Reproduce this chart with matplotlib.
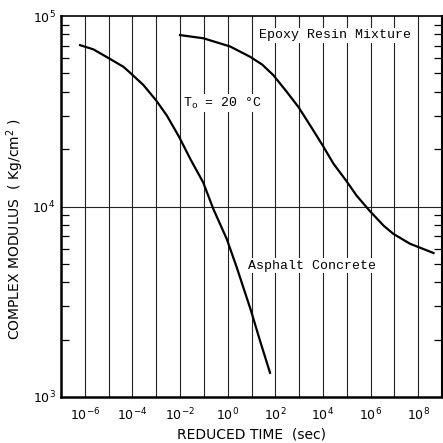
import numpy as np
import matplotlib
matplotlib.use("Agg")
import matplotlib.pyplot as plt
from matplotlib.ticker import LogLocator, FixedLocator, FuncFormatter, NullFormatter

# reduced time (sec) and complex modulus (Kg/cm^2)
asphalt_time = [6.3e-7, 2.3e-6, 1.07e-5, 4.2e-5, 9.3e-5, 2.9e-4, 9.8e-4, 2.75e-3,
                9.1e-3, 2.8e-2, 9.3e-2, 0.25, 0.91, 2.4, 9.5, 22.9, 60]
asphalt_modulus = [70300, 66800, 59800, 54100, 49500, 43400, 36100, 30100,
                   23200, 17600, 13400, 9700, 6760, 4790, 2840, 1970, 1340]

epoxy_time = [0.01, 0.095, 1.26, 8.7, 28, 83, 302, 933, 2880, 9800, 2.75e4,
              9.3e4, 2.6e5, 8.9e5, 3.5e6, 9.1e6, 4.6e7, 4.4e8]
epoxy_modulus = [79400, 76400, 69200, 61100, 55600, 48900, 40000, 33300, 26700,
                 20900, 16800, 13700, 11400, 9530, 7940, 7180, 6370, 5700]

x_decades = list(range(-7, 10))
x_label_decades = [-6, -4, -2, 0, 2, 4, 6, 8]
y_decades = [3, 4, 5]

MONO = "Liberation Mono"
NARROW = ["Liberation Sans Narrow", "DejaVu Sans"]
plt.rcParams["font.family"] = NARROW
plt.rcParams["mathtext.fontset"] = "custom"
plt.rcParams["mathtext.rm"] = MONO
plt.rcParams["mathtext.sf"] = NARROW[0]

fig = plt.figure(figsize=(4.43, 4.43), dpi=100)
ax = fig.add_axes([61 / 443, 46 / 443, 381 / 443, 381 / 443])

ax.set_xscale("log")
ax.set_yscale("log")
ax.set_xlim(1e-7, 1e9)
ax.set_ylim(1e3, 1e5)

# vertical rule at every decade, single horizontal rule at 10^4
for d in x_decades[1:-1]:
    ax.axvline(10.0 ** d, color="#222222", lw=0.8, zorder=1)
ax.axhline(1e4, color="#222222", lw=0.8, zorder=1)

ax.plot(asphalt_time, asphalt_modulus, color="black", lw=1.6, zorder=3)
ax.plot(epoxy_time, epoxy_modulus, color="black", lw=1.6, zorder=3)

# ticks
ax.xaxis.set_major_locator(FixedLocator([10.0 ** d for d in x_label_decades]))
ax.xaxis.set_minor_locator(FixedLocator([]))
ax.xaxis.set_major_formatter(
    FuncFormatter(lambda v, p: r"$\mathsf{10^{%d}}$" % round(np.log10(v))))
ax.tick_params(axis="x", which="both", length=0, pad=7, labelsize=9)

ax.yaxis.set_major_locator(FixedLocator([10.0 ** d for d in y_decades]))
ax.yaxis.set_major_formatter(
    FuncFormatter(lambda v, p: r"$\mathsf{10^{%d}}$" % round(np.log10(v))))
ax.yaxis.set_minor_locator(LogLocator(base=10, subs=np.arange(2, 10)))
ax.yaxis.set_minor_formatter(NullFormatter())
ax.tick_params(axis="y", which="major", length=0, pad=4, labelsize=9)
ax.tick_params(axis="y", which="minor", direction="in", length=6, width=0.9,
               left=True, right=True)

for side, w in [("left", 1.8), ("bottom", 1.8), ("top", 1.2), ("right", 1.5)]:
    ax.spines[side].set_linewidth(w)

ax.set_xlabel("REDUCED TIME  (sec)", fontsize=10, labelpad=3)
ax.set_ylabel("COMPLEX MODULUS  ( Kg/cm$^\\mathsf{2}$ )", fontsize=10)
ax.yaxis.set_label_coords(-0.092, 0.441)

ax.text(10 ** 1.32, 10 ** 4.9, "Epoxy Resin Mixture", family=MONO,
        fontsize=9.5, ha="left", va="center", zorder=4,
        bbox=dict(fc="white", ec="none", pad=1))
ax.text(10 ** -1.87, 10 ** 4.542, r"T$_\mathrm{o}$ = 20 °C", family=MONO,
        fontsize=9.5, ha="left", va="center", zorder=4,
        bbox=dict(fc="white", ec="none", pad=1))
ax.text(10 ** 0.86, 10 ** 3.689, "Asphalt Concrete", family=MONO,
        fontsize=9.5, ha="left", va="center", zorder=4,
        bbox=dict(fc="white", ec="none", pad=1))

fig.savefig("out.png", dpi=100)
